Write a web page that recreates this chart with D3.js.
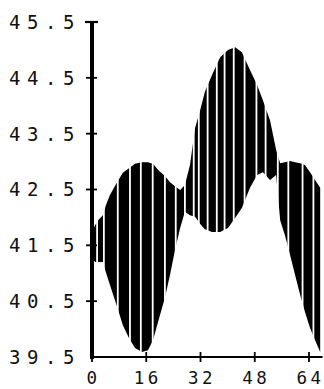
<!DOCTYPE html>
<html>
<head>
<meta charset="utf-8">
<script src="https://cdn.jsdelivr.net/npm/d3@7"></script>
<style>
  html, body { margin: 0; padding: 0; background: #fff; }
  svg { display: block; }
</style>
</head>
<body>
<script>
// ---- data ----
const sampleX = [0, 0.9, 1.8, 3.2, 4.1, 5.3, 7.4, 9.1, 10.9, 12.7, 14.7, 16.5, 18.0, 19.5, 21.5, 23.0, 24.5, 26.0, 27.4, 28.9, 30.4, 31.9, 33.3, 35.4, 37.8, 40.1, 42.2, 44.2, 46.6, 48.7, 50.4, 52.5, 54.3, 55.5, 56.9, 58.4, 59.9, 61.4, 62.8, 64.3, 65.8, 67.3];
const upperEnv = [41.74, 41.86, 41.95, 42.04, 42.22, 42.40, 42.63, 42.80, 42.88, 42.96, 42.99, 42.99, 42.96, 42.85, 42.74, 42.63, 42.56, 42.49, 42.58, 42.94, 43.60, 43.92, 44.25, 44.55, 44.87, 45.00, 45.05, 44.96, 44.64, 44.37, 44.10, 43.74, 43.21, 42.97, 42.99, 43.01, 42.99, 42.97, 42.94, 42.81, 42.67, 42.53];
const lowerEnv = [41.27, 41.20, 41.20, 41.20, 41.02, 40.79, 40.40, 40.07, 39.84, 39.66, 39.59, 39.62, 39.80, 40.13, 40.56, 40.97, 41.42, 41.81, 42.10, 42.04, 42.01, 41.88, 41.79, 41.74, 41.74, 41.81, 41.99, 42.17, 42.53, 42.76, 42.81, 42.67, 42.76, 41.95, 41.68, 41.33, 40.97, 40.61, 40.31, 40.02, 39.80, 39.59];
const stripeGaps = [1.5, 3.5, 7.6, 11.2, 14.4, 17.9, 21.5, 24.7, 27.4, 30.0, 31.5, 34.1, 36.8, 39.1, 41.8, 45.0, 48.5, 51.2, 54.8, 57.9, 62.1, 65.3];
const xTicks = [0, 16, 32, 48, 64];
const xTickLabels = ["0", "16", "32", "48", "64"];
const yTicks = [45.5, 44.5, 43.5, 42.5, 41.5, 40.5, 39.5];
const yTickLabels = ["45.5", "44.5", "43.5", "42.5", "41.5", "40.5", "39.5"];

// ---- layout ----
const W = 324, H = 389;
const svg = d3.select("body").append("svg").attr("width", W).attr("height", H);

const x = d3.scaleLinear().domain([0, 64]).range([92, 309]);
const y = d3.scaleLinear().domain([39.5, 45.5]).range([357, 22]);

const pts = sampleX.map((v, i) => ({ x: v, hi: upperEnv[i], lo: lowerEnv[i] }));

const area = d3.area()
  .x(d => x(d.x))
  .y0(d => y(d.lo))
  .y1(d => y(d.hi))
  .curve(d3.curveLinear);

svg.append("path").datum(pts).attr("d", area).attr("fill", "#000");

// white stripe gaps
svg.append("g").selectAll("rect").data(stripeGaps).join("rect")
  .attr("x", d => x(d) - 0.9)
  .attr("width", 1.8)
  .attr("y", y(45.5))
  .attr("height", y(39.5) - y(45.5) - 2)
  .attr("fill", "#fff");

// ---- axes ----
const ax = svg.append("g").attr("stroke", "#000");
ax.append("line").attr("x1", x(0)).attr("x2", x(0)).attr("y1", y(45.5) - 1).attr("y2", y(39.5) + 2).attr("stroke-width", 4);
ax.append("line").attr("x1", x(0) - 7).attr("x2", x(0) + 6).attr("y1", y(45.5)).attr("y2", y(45.5)).attr("stroke-width", 2.2);
ax.selectAll(".yt").data(yTicks.slice(1, -1)).join("line")
  .attr("x1", x(0) - 6).attr("x2", x(0) + 5)
  .attr("y1", d => y(d)).attr("y2", d => y(d)).attr("stroke-width", 1.8);
ax.append("line").attr("x1", x(0)).attr("x2", x(68)).attr("y1", y(39.5)).attr("y2", y(39.5)).attr("stroke-width", 2);
ax.selectAll(".xt").data(xTicks).join("line")
  .attr("x1", d => x(d)).attr("x2", d => x(d))
  .attr("y1", y(39.5) - 5).attr("y2", y(39.5) + 5).attr("stroke-width", 1.8);

// ---- labels ----
const font = "DejaVu Sans Mono";
svg.append("g").selectAll("text").data(yTicks).join("text")
  .attr("x", 9)
  .attr("y", d => y(d))
  .attr("dy", "0.36em")
  .attr("font-family", font)
  .attr("font-size", 19)
  .attr("letter-spacing", 6.6)
  .attr("fill", "#111")
  .text((d, i) => yTickLabels[i]);

svg.append("g").selectAll("text").data(xTicks).join("text")
  .attr("x", d => x(d) + 1.5)
  .attr("y", 384)
  .attr("text-anchor", "middle")
  .attr("font-family", font)
  .attr("font-size", 17.5)
  .attr("letter-spacing", 3.5)
  .attr("fill", "#111")
  .text((d, i) => xTickLabels[i]);
</script>
</body>
</html>
